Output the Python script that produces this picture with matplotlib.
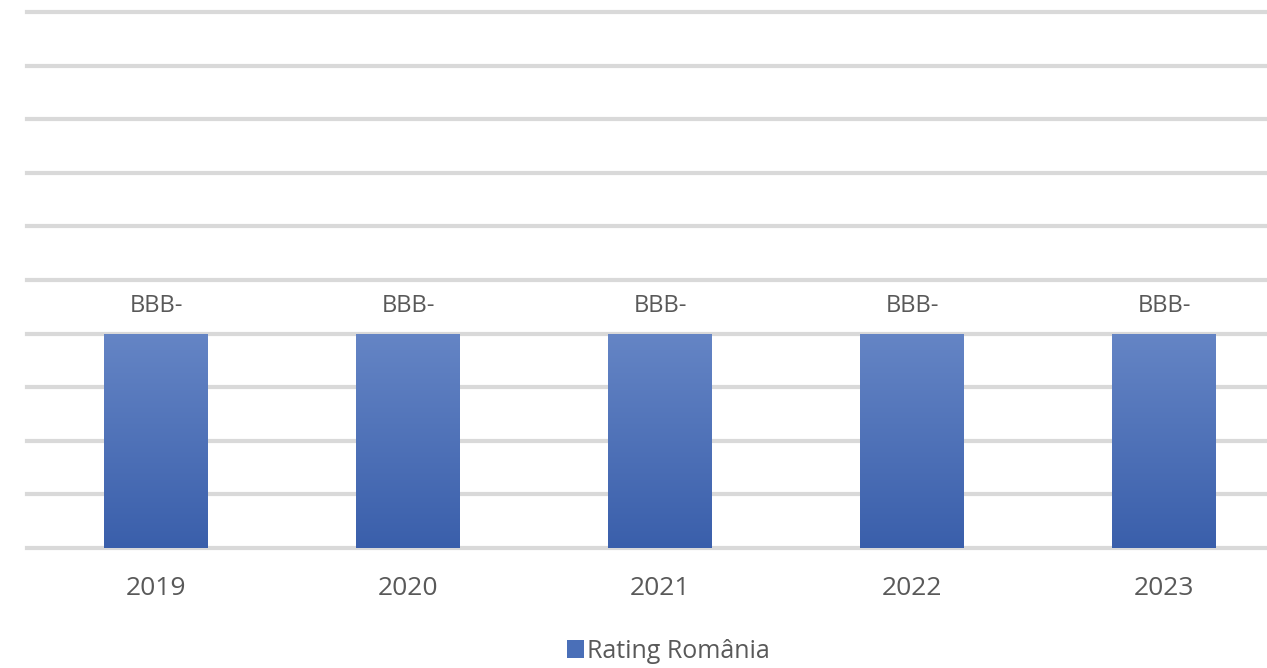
import matplotlib
matplotlib.use("Agg")
import matplotlib.pyplot as plt
import numpy as np
from matplotlib.colors import LinearSegmentedColormap
from matplotlib.patches import Patch

years = ["2019", "2020", "2021", "2022", "2023"]
values = [4, 4, 4, 4, 4]
labels = ["BBB-", "BBB-", "BBB-", "BBB-", "BBB-"]
series_name = "Rating România"

plt.rcParams['font.family'] = ['Open Sans', 'DejaVu Sans']
txt = "#595959"

fig = plt.figure(figsize=(12.67, 6.68), dpi=100)
ax = fig.add_axes([27/1267, 1-548/668, 1-27/1267, (548-12)/668])
ax.set_xlim(-0.512, 4.409)
ax.set_ylim(0, 10)

for y in range(0, 11):
    ax.axhline(y, color="#d9d9d9", lw=3, zorder=0, clip_on=False)

x = np.arange(len(years))
bars = ax.bar(x, values, width=0.41, color="#4a6fb8", zorder=2)
cmap = LinearSegmentedColormap.from_list("g", ["#3a5fab", "#6585c5"])
grad = np.linspace(0, 1, 256).reshape(-1, 1)
for b in bars:
    bx, by, bw, bh = b.get_x(), b.get_y(), b.get_width(), b.get_height()
    im = ax.imshow(grad, extent=[bx, bx+bw, by, by+bh], origin="lower",
                   cmap=cmap, aspect="auto", zorder=3)
    im.set_clip_path(b)
ax.set_xlim(-0.512, 4.409)
ax.set_ylim(0, 10)

for xi, v, lab in zip(x, values, labels):
    ax.annotate(lab, (xi, v), xytext=(0, 20), textcoords="offset points",
                ha="center", va="center", fontsize=17, color=txt)

ax.set_xticks(x)
ax.set_xticklabels(years, fontsize=19, color=txt)
ax.tick_params(axis="x", length=0, pad=20)
ax.set_yticks([])
for s in ax.spines.values():
    s.set_visible(False)

h = Patch(facecolor="#4a6fb8", edgecolor="none")
fig.legend([h], [series_name], loc="center", bbox_to_anchor=(668/1267, 1-651/668),
           frameon=False, fontsize=18, labelcolor=txt, handlelength=0.7,
           handleheight=0.7, handletextpad=0.1)

fig.savefig("out.png", dpi=100)
